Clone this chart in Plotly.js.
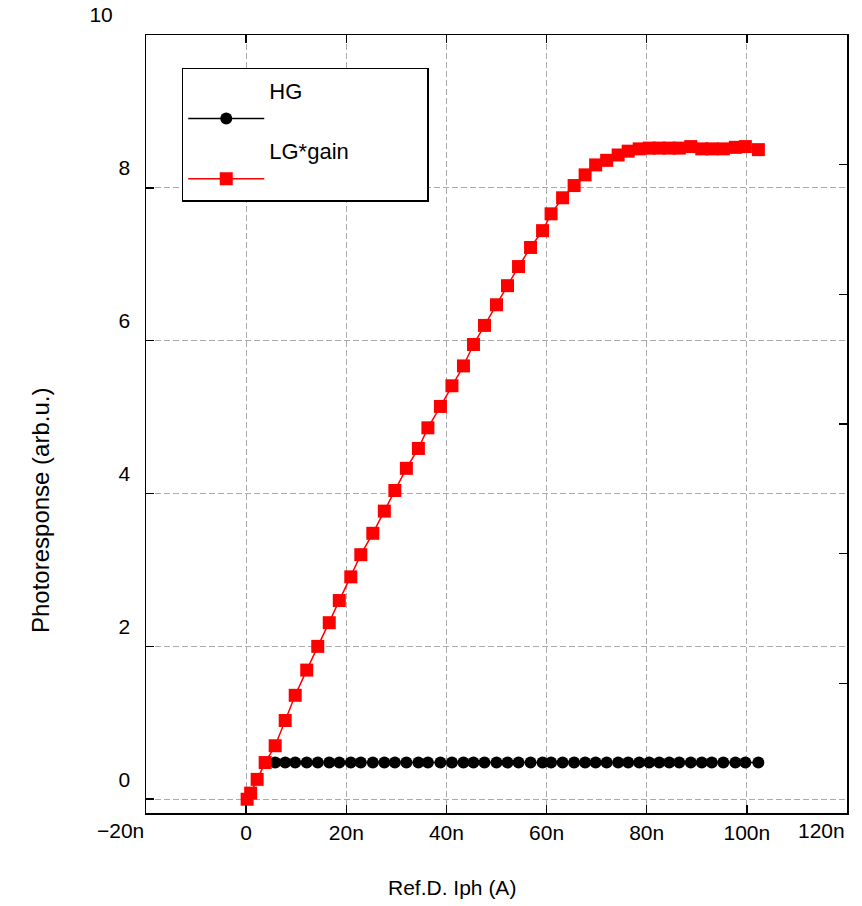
<!DOCTYPE html>
<html>
<head>
<meta charset="utf-8">
<script src="https://cdn.plot.ly/plotly-3.0.1.min.js"></script>
<style>html,body{margin:0;padding:0;background:#fff;}#chart{width:862px;height:906px;}</style>
</head>
<body>
<div id="chart"></div>
<script>
// Ref.D. Iph in nA
const lgX = [0.2, 0.9, 2.2, 3.8, 5.8, 7.8, 9.8, 12.1, 14.3, 16.6, 18.6, 20.9, 22.9, 25.3, 27.6, 29.7, 32.0, 34.4, 36.3, 38.8, 41.1, 43.4, 45.4, 47.6, 50.0, 52.2, 54.4, 56.8, 59.2, 60.9, 63.2, 65.5, 67.7, 69.8, 72.0, 74.3, 76.3, 78.5, 80.5, 82.5, 84.5, 86.5, 88.8, 91.0, 93.0, 95.3, 97.7, 99.7, 102.3];
const lgY = [0.00, 0.08, 0.26, 0.48, 0.70, 1.03, 1.36, 1.69, 2.00, 2.31, 2.60, 2.91, 3.20, 3.48, 3.77, 4.04, 4.33, 4.59, 4.86, 5.14, 5.41, 5.67, 5.95, 6.20, 6.47, 6.72, 6.97, 7.22, 7.44, 7.66, 7.87, 8.03, 8.17, 8.30, 8.36, 8.43, 8.48, 8.51, 8.52, 8.52, 8.52, 8.52, 8.54, 8.51, 8.51, 8.51, 8.53, 8.54, 8.50];
const hgX = [5.8, 7.8, 9.8, 12.1, 14.3, 16.6, 18.6, 20.9, 22.9, 25.3, 27.6, 29.7, 32.0, 34.4, 36.3, 38.8, 41.1, 43.4, 45.4, 47.6, 50.0, 52.2, 54.4, 56.8, 59.2, 60.9, 63.2, 65.5, 67.7, 69.8, 72.0, 74.3, 76.3, 78.5, 80.5, 82.5, 84.5, 86.5, 88.8, 91.0, 93.0, 95.3, 97.7, 99.7, 102.3];
const hgY = [0.48, 0.48, 0.48, 0.48, 0.48, 0.48, 0.48, 0.48, 0.48, 0.48, 0.48, 0.48, 0.48, 0.48, 0.48, 0.48, 0.48, 0.48, 0.48, 0.48, 0.48, 0.48, 0.48, 0.48, 0.48, 0.48, 0.48, 0.48, 0.48, 0.48, 0.48, 0.48, 0.48, 0.48, 0.48, 0.48, 0.48, 0.48, 0.48, 0.48, 0.48, 0.48, 0.48, 0.48, 0.48];

const xTickVals = [-20, 0, 20, 40, 60, 80, 100, 120];
const xTickText = ["\u221220n", "0", "20n", "40n", "60n", "80n", "100n", "120n"];
const yTickVals = [0, 2, 4, 6, 8, 10];
const yTickText = ["0", "2", "4", "6", "8", "10\u00a0\u00a0\u00a0"];
const seriesNames = ["HG", "LG*gain"];

const NB = "\u00a0".repeat(25);
const traces = [
  {x: hgX, y: hgY, name: seriesNames[0] + "<br>" + NB, type: "scatter", mode: "lines+markers",
   line: {color: "#000000", width: 1.5},
   marker: {symbol: "circle", size: 12, color: "#000000"}},
  {x: lgX, y: lgY, name: seriesNames[1] + "<br>" + NB, type: "scatter", mode: "lines+markers",
   line: {color: "#ff0000", width: 1.5},
   marker: {symbol: "square", size: 13, color: "#ff0000"}},
  {x: [null], y: [null], yaxis: "y2", showlegend: false, hoverinfo: "skip"}
];

const fam = "Liberation Sans, Arial, sans-serif";
const tickFont = {family: fam, size: 21, color: "#000"};
const xLabelY = (813 - 830) / 778;
// interior x tick labels drawn by the axis; the two end labels are pulled inward like the reference
const xAxisText = xTickText.map((t, i) => (i === 0 || i === xTickText.length - 1) ? "" : t);
const endLabelAnn = [0, xTickVals.length - 1].map(i => ({
  text: xTickText[i], xref: "x", yref: "paper", x: xTickVals[i], y: xLabelY,
  xanchor: "right", yanchor: "middle", showarrow: false, font: tickFont
}));

const layout = {
  width: 862, height: 906,
  margin: {l: 146, r: 15, t: 35, b: 93},
  paper_bgcolor: "#fff", plot_bgcolor: "#fff",
  font: tickFont,
  showlegend: true,
  legend: {x: 0.051, y: 0.958, xanchor: "left", yanchor: "top",
    bordercolor: "#000", borderwidth: 1.5, bgcolor: "#fff",
    font: {family: fam, size: 22, color: "#000"},
    valign: "bottom", itemwidth: 76},
  xaxis: {range: [-20, 120], tickvals: xTickVals, ticktext: xAxisText,
    showgrid: true, gridcolor: "#aaaaaa", griddash: "6px,3px", gridwidth: 1,
    zeroline: false, showline: true, linecolor: "#000", linewidth: 1.5,
    mirror: "ticks", ticks: "inside", ticklen: 8, tickwidth: 1.5, tickcolor: "#000",
    tickfont: tickFont},
  yaxis: {range: [-0.18, 10], tickvals: yTickVals, ticktext: yTickText,
    showgrid: true, gridcolor: "#aaaaaa", griddash: "6px,3px", gridwidth: 1,
    zeroline: false, showline: true, linecolor: "#000", linewidth: 1.5,
    mirror: true, ticks: "inside", ticklen: 8, tickwidth: 1.5, tickcolor: "#000",
    tickfont: tickFont, ticklabelshift: -20, ticklabelstandoff: 10, ticklabeloverflow: "allow"},
  yaxis2: {overlaying: "y", side: "right", range: [0, 6], dtick: 1,
    showgrid: false, zeroline: false, showline: false, showticklabels: false,
    ticks: "inside", ticklen: 8, tickwidth: 1.5, tickcolor: "#000"},
  annotations: endLabelAnn.concat([
    {text: "Ref.D. Iph (A)", xref: "paper", yref: "paper", x: (452 - 146) / 701, y: (813 - 888) / 778,
     xanchor: "center", yanchor: "middle", showarrow: false, font: {family: fam, size: 21, color: "#000"}},
    {text: "Photoresponse (arb.u.)", xref: "paper", yref: "paper", x: (40 - 146) / 701, y: (813 - 510) / 778,
     xanchor: "center", yanchor: "middle", textangle: -90, showarrow: false, font: {family: fam, size: 24, color: "#000"}}
  ])
};

Plotly.newPlot("chart", traces, layout, {displayModeBar: false, staticPlot: true});
</script>
</body>
</html>
